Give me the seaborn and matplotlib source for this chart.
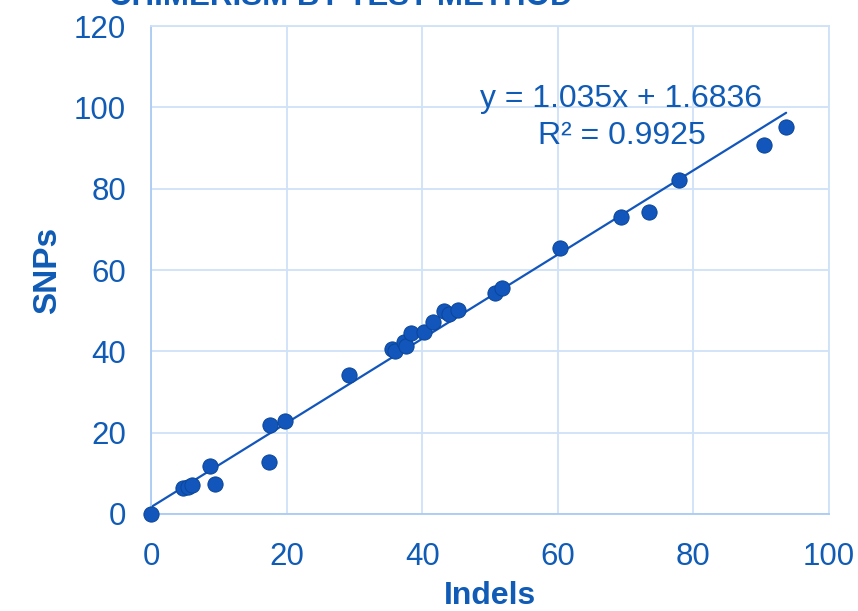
import matplotlib
matplotlib.use("Agg")
import matplotlib.pyplot as plt
import numpy as np
import pandas as pd
import seaborn as sns

# values
indels = [0.0, 4.7, 5.5, 6.0, 8.7, 9.4, 17.6, 17.4, 19.8, 29.2, 35.5, 36.0, 37.3, 37.6,
          38.4, 40.3, 41.6, 43.2, 43.9, 45.3, 50.7, 51.8, 60.3, 69.3, 73.4, 77.9, 90.4, 93.7]
snps = [0.0, 6.4, 6.6, 7.1, 11.8, 7.4, 21.9, 12.8, 22.9, 34.2, 40.6, 40.1, 42.3, 41.3,
        44.5, 44.8, 47.2, 49.9, 49.2, 50.2, 54.3, 55.6, 65.4, 73.0, 74.3, 82.1, 90.7, 95.2]
slope = 1.035
intercept = 1.6836
r_squared = 0.9925

title = "CHIMERISM BY TEST METHOD"
xticks = [0, 20, 40, 60, 80, 100]
yticks = [0, 20, 40, 60, 80, 100, 120]

blue = "#1256BC"
text_blue = "#0F5BB5"
grid_blue = "#CFE2F8"
spine_blue = "#A9CBF2"

df = pd.DataFrame({"Indels": indels, "SNPs": snps})

sns.set_style("white")
plt.rcParams["font.family"] = ["Liberation Sans", "DejaVu Sans"]

fig = plt.figure(figsize=(8.58, 6.11), dpi=100)
ax = fig.add_axes([0.176, 0.1588, 0.79, 0.7986])

sns.scatterplot(data=df, x="Indels", y="SNPs", ax=ax, color=blue, s=120,
                edgecolor="#0A4598", linewidth=0.7, zorder=3, clip_on=False)

xs = np.array([min(indels), max(indels)])
ax.plot(xs, slope * xs + intercept, color=blue, lw=1.6, zorder=2)

ax.set_xlim(0, 100)
ax.set_ylim(0, 120)
ax.set_xticks(xticks)
ax.set_yticks(yticks)
ax.grid(True, color=grid_blue, lw=1.3)
ax.set_axisbelow(True)
for name, sp in ax.spines.items():
    sp.set_color(spine_blue if name in ("left", "bottom") else grid_blue)
    sp.set_linewidth(1.3)
ax.tick_params(colors=text_blue, labelsize=22.5, length=0)
ax.tick_params(axis="x", pad=20)
ax.tick_params(axis="y", pad=18)

ax.set_xlabel("Indels", color=text_blue, fontsize=23, fontweight="bold", labelpad=6.5)
ax.set_ylabel("SNPs", color=text_blue, fontsize=24, fontweight="bold", labelpad=8)

ax.text(69.4, 97.5, f"y = {slope}x + {intercept}\nR² = {r_squared}", color=text_blue,
        fontsize=23, ha="center", va="center", linespacing=1.3)

fig.text(0.397, 0.992, title, color=text_blue, fontsize=22.5, fontweight="bold",
         ha="center", va="baseline")

fig.savefig("out.png", dpi=100)
